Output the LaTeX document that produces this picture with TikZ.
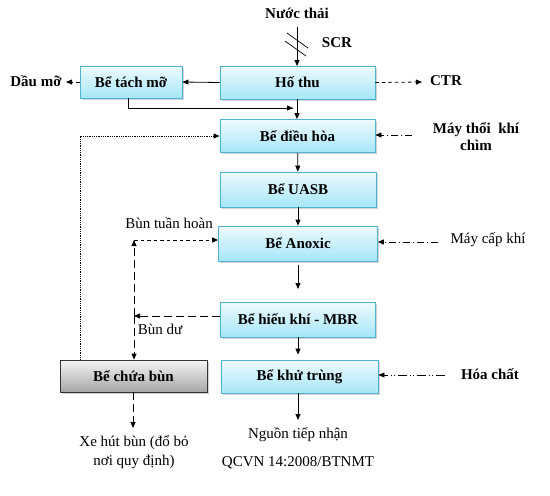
\documentclass[tikz,border=0pt]{standalone}
\usepackage{fontspec}
\setmainfont{Liberation Serif}
\usetikzlibrary{arrows.meta,shadows}
\definecolor{boxedge}{HTML}{4FB3D3}
\definecolor{boxtop}{HTML}{EEFAFE}
\definecolor{boxbot}{HTML}{A6E6F8}
\begin{document}
\begin{tikzpicture}[x=1pt,y=-1pt,
  box/.style={draw=boxedge, line width=0.8pt, top color=boxtop, bottom color=boxbot,
    minimum height=33pt, font=\bfseries\fontsize{15}{16}\selectfont,
    drop shadow={shadow xshift=1.5pt, shadow yshift=-1.5pt, opacity=0.35}},
  graybox/.style={draw=black!80, line width=0.8pt, top color=black!4, bottom color=black!35,
    minimum height=32pt, font=\bfseries\fontsize{15}{16}\selectfont,
    drop shadow={shadow xshift=1.5pt, shadow yshift=-1.5pt, opacity=0.35}},
  lbl/.style={font=\bfseries\fontsize{15}{16}\selectfont, inner sep=0pt},
  rlbl/.style={font=\fontsize{15}{19}\selectfont, inner sep=0pt, align=center},
  arr/.style={line width=0.8pt, -{Triangle[length=6pt,width=5pt]}},
  dashA/.style={arr, dash pattern=on 3.5pt off 3pt},
  dashB/.style={arr, dash pattern=on 8pt off 4pt},
  dashdotA/.style={arr, dash pattern=on 7pt off 3pt on 1pt off 3pt},
  dashdotdot/.style={arr, dash pattern=on 9pt off 3pt on 1pt off 2pt on 1pt off 3pt},
]
\useasboundingbox (0,0) rectangle (550,496);
% boxes
\node[box, minimum width=155pt] (hothu) at (297.5,82.5) {Hố thu};
\node[box, minimum width=155pt] (dieuhoa) at (297.5,136) {Bể điều hòa};
\node[box, minimum width=156pt, minimum height=35pt] (uasb) at (298,189.5) {Bể UASB};
\node[box, minimum width=159pt, minimum height=35pt] (anoxic) at (298,243.5) {Bể Anoxic};
\node[box, minimum width=155pt, minimum height=35pt] (hieukhi) at (298,319.5) {Bể hiếu khí - MBR};
\node[box, minimum width=157pt] (khutrung) at (299.5,376.5) {Bể khử trùng};
\node[box, minimum width=102pt, minimum height=32pt] (tachmo) at (131,82) {Bể tách mỡ};
\node[graybox, minimum width=147pt] (chuabun) at (133.5,376) {Bể chứa bùn};
% labels
\node[lbl] (nuocthai) at (297,13) {Nước thải};
\node[lbl] (scr) at (337,43) {SCR};
\node[lbl] (ctr) at (446,81) {CTR};
\node[lbl] (daumo) at (36,81) {Dầu mỡ};
\node[lbl, align=center, font=\bfseries\fontsize{15}{17}\selectfont] (maythoi) at (476,137) {Máy thổi\ \ khí\\chìm};
\node[rlbl] (maycap) at (488,240) {Máy cấp khí};
\node[lbl] (hoachat) at (490,374) {Hóa chất};
\node[rlbl] (buntuan) at (169,223) {Bùn tuần hoàn};
\node[rlbl] (bundu) at (160,329) {Bùn dư};
\node[rlbl] (xehut) at (134,452) {Xe hút bùn (đổ bỏ\\nơi quy định)};
\node[rlbl] (nguon) at (298,435) {Nguồn tiếp nhận};
\node[rlbl] (qcvn) at (298,463) {QCVN 14:2008/BTNMT};
% coordinates
\coordinate (tmjoin) at (293,108);
\coordinate (ctrend) at (422,82);
\coordinate (dmend) at (66,82);
\coordinate (mtstart) at (412,135);
\coordinate (mcstart) at (438,242);
\coordinate (hcstart) at (445,375);
\coordinate (j) at (134,316);
\coordinate (dotc) at (80,136);
\coordinate (xeend) at (133,428);
\coordinate (nguonend) at (298,420);
\coordinate (hkend) at (298,289);
% main flow
\draw[arr] (297,27) -- (297,66);
\draw[line width=0.7pt] (287,33) -- (308,48) (285,41) -- (306,56);
\draw[arr] (hothu.south -| 297,0) -- (dieuhoa.north -| 297,0);
\draw[arr] (dieuhoa) -- (uasb);
\draw[arr] (uasb) -- (anoxic);
\draw[arr, shorten <=4pt] (anoxic.south) -- (hkend);
\draw[arr, shorten >=5pt] (hieukhi.south) -- (khutrung.north -| hieukhi.south);
\draw[arr] (khutrung.south -| 298,0) -- (nguonend);
% side flows
\draw[arr] (hothu.west) -- (tachmo.east);
\draw[line width=0.8pt] ([xshift=-3pt]tachmo.south) |- (tmjoin);
\draw[arr] ([xshift=-3pt]tachmo.south |- tmjoin) -- (tmjoin);
\draw[dashA] (hothu.east) -- (ctrend);
\draw[dashA] (tachmo.west) -- (dmend);
\draw[dashdotA] (mtstart) -- (mtstart -| dieuhoa.east);
\draw[dashdotA] (mcstart) -- (mcstart -| anoxic.east);
\draw[dashdotdot] (hcstart) -- (hcstart -| khutrung.east);
% sludge
\draw[dashB] (hieukhi.west |- j) -- (j);
\draw[dashB] (j) -- (134,240);
\draw[dashA] (134,240) -- (anoxic.west |- 0,240);
\draw[dashB] (j) -- (j |- chuabun.north);
\draw[dashB] (chuabun.south -| 133,0) -- (xeend);
\draw[line width=0.8pt, densely dotted, -{Triangle[length=6pt,width=5pt]}] (chuabun.north -| dotc) -- (dotc) -- (dieuhoa.west |- dotc);
\end{tikzpicture}
\end{document}
